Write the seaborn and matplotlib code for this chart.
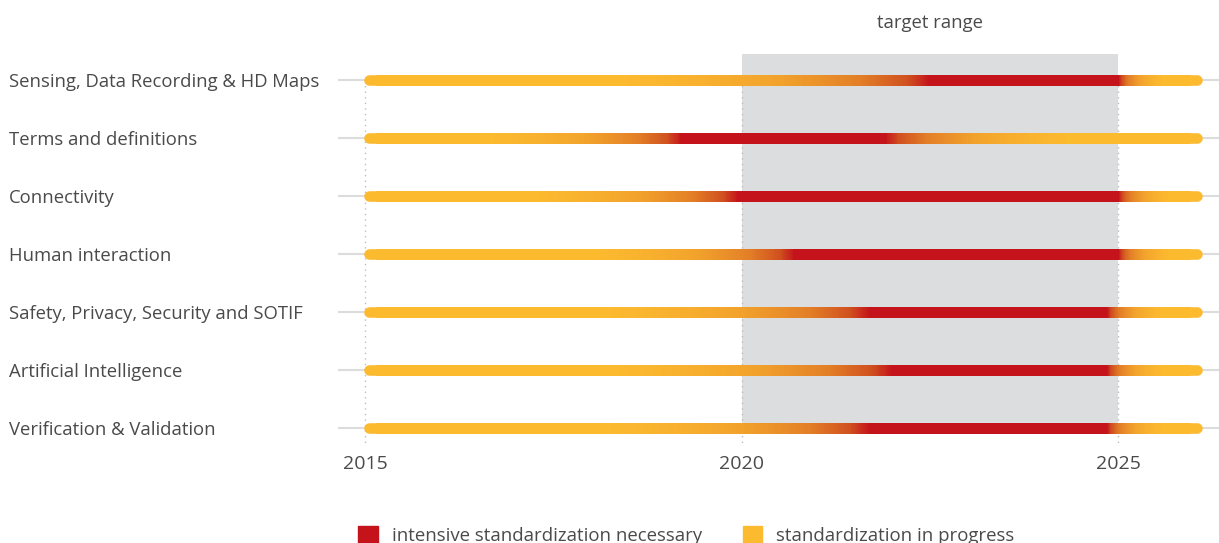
import numpy as np
import pandas as pd
import matplotlib
matplotlib.use("Agg")
import matplotlib.pyplot as plt
import seaborn as sns
from matplotlib.collections import LineCollection
from matplotlib.colors import LinearSegmentedColormap
from matplotlib.patches import Patch, Rectangle

sns.set_style("white")
plt.rcParams['font.family'] = ['Open Sans', 'DejaVu Sans']

# data ---------------------------------------------------------------
topics = ['Sensing, Data Recording & HD Maps', 'Terms and definitions',
          'Connectivity', 'Human interaction',
          'Safety, Privacy, Security and SOTIF', 'Artificial Intelligence',
          'Verification & Validation']
bar_start = 2015.05
bar_end = 2026.05
# year where colour starts turning red, fully red, red ends, back to yellow
fade_in = [2018.3, 2016.6, 2017.2, 2018.0, 2018.1, 2018.2, 2018.1]
red_from = [2022.5, 2019.2, 2019.95, 2020.7, 2021.7, 2022.0, 2021.7]
red_to = [2025.0, 2021.9, 2025.0, 2025.0, 2024.85, 2024.85, 2024.85]
fade_out = [2025.6, 2024.4, 2025.7, 2025.7, 2025.6, 2025.6, 2025.6]
target = (2020, 2025)
years = [2015, 2020, 2025]

yellow = '#FCBA2F'
red = '#C4131B'
text_col = '#4a4a4a'
cmap = LinearSegmentedColormap.from_list(
    'std', [(0, yellow), (0.4, '#F2A22C'), (0.7, '#E37F27'),
            (0.9, '#D0501F'), (1, red)])

# plot ---------------------------------------------------------------
fig = plt.figure(figsize=(12.19, 5.43), dpi=100)
ax = fig.add_axes([338/1219, (543-445.4)/543, 1-338/1219, (445.4-45.2)/543])

# target range box
ax.add_patch(Rectangle((target[0], -0.45), target[1]-target[0], 6.45,
                       color='#DCDDDF', lw=0, zorder=0))
ax.text(np.mean(target), -0.98, 'target range', ha='center', va='center',
        fontsize=13.3, color=text_col)

# row lines and dotted year lines
for i in range(len(topics)):
    ax.axhline(i, color='#dcdcdc', lw=1.5, zorder=1)
ax.vlines(years, 0, 6.3, color='#bdbdbd', lw=1, ls=(0, (1, 3)), zorder=1)

# base yellow bars with round caps
df = pd.DataFrame({'topic': topics * 2,
                   'row': list(range(len(topics))) * 2,
                   'year': [bar_start] * len(topics) + [bar_end] * len(topics)})
sns.lineplot(df, x='year', y='row', units='topic', estimator=None,
             color=yellow, lw=7.6, solid_capstyle='round', ax=ax, zorder=2)

# gradient overlay
xs = np.linspace(bar_start + 0.1, bar_end - 0.1, 900)
for i in range(len(topics)):
    t = np.interp(xs, [fade_in[i], red_from[i], red_to[i], fade_out[i]],
                  [0, 1, 1, 0], left=0, right=0)
    t = t ** 1.4
    pts = np.column_stack([xs, np.full_like(xs, i)])
    segs = np.stack([pts[:-1], pts[1:]], axis=1)
    lc = LineCollection(segs, colors=cmap(t[:-1]), lw=7.6,
                        capstyle='butt', antialiaseds=False, zorder=3)
    ax.add_collection(lc)

ax.set_xlim(2014.64, 2026.34)
ax.set_ylim(6.3, -0.6)
ax.set_xticks(years)
ax.set_xticklabels([str(y) for y in years], fontsize=14, color=text_col)
ax.set_yticks(range(len(topics)))
ax.set_yticklabels(topics, fontsize=13.3, color=text_col)
for lab in ax.get_yticklabels():
    lab.set_ha('left')
ax.tick_params(axis='y', length=0, pad=237)
ax.tick_params(axis='x', length=0, pad=7)
ax.set_xlabel('')
ax.set_ylabel('')
sns.despine(ax=ax, left=True, bottom=True)
ax.grid(False)

handles = [Patch(color=red, label='intensive standardization necessary'),
           Patch(color=yellow, label='standardization in progress')]
fig.legend(handles=handles, loc='center', bbox_to_anchor=(0.563, 0.014),
           ncol=2, frameon=False, fontsize=13.4, labelcolor=text_col,
           handlelength=1.05, handleheight=1.05, handletextpad=0.75,
           columnspacing=2.2)

plt.savefig('out.png', dpi=100)
